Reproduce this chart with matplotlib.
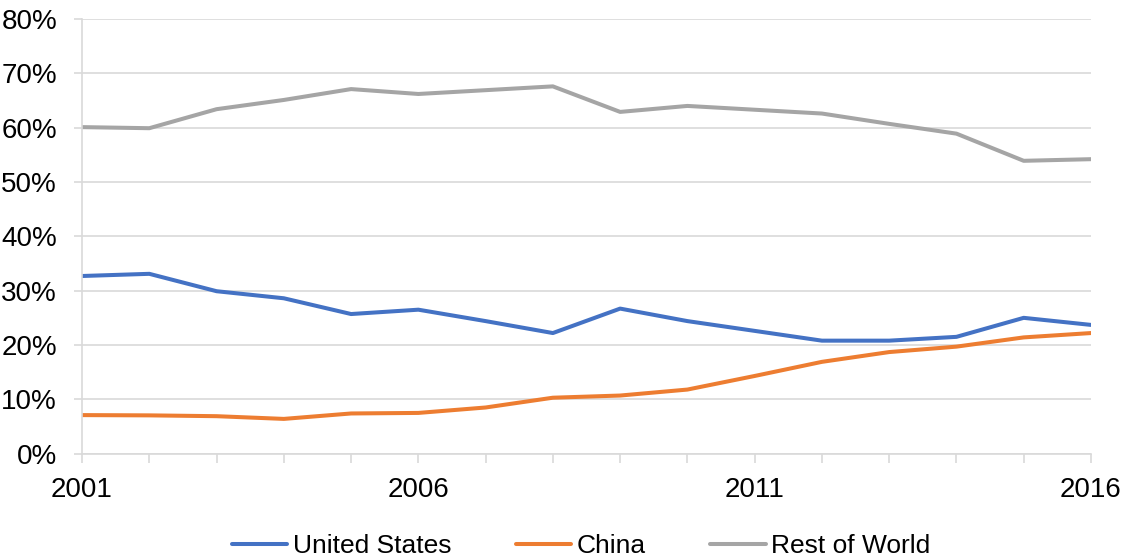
import matplotlib.pyplot as plt
from matplotlib.ticker import FuncFormatter, MultipleLocator

plt.rcParams['font.family'] = ['Liberation Sans', 'DejaVu Sans']

years = list(range(2001, 2017))
us = [32.7, 33.1, 29.9, 28.6, 25.7, 26.5, 24.4, 22.2, 26.7, 24.4, 22.6, 20.8, 20.8, 21.5, 25.0, 23.7]
china = [7.1, 7.05, 6.9, 6.4, 7.4, 7.5, 8.5, 10.3, 10.7, 11.8, 14.3, 16.9, 18.7, 19.7, 21.4, 22.2]
rest = [60.1, 59.9, 63.4, 65.1, 67.1, 66.2, 66.9, 67.6, 62.9, 64.0, 63.3, 62.6, 60.7, 58.9, 53.9, 54.2]
labeled_years = [2001, 2006, 2011, 2016]

fig = plt.figure(figsize=(11.24, 5.57), dpi=100)
ax = fig.add_axes([0.073, 0.1855, 0.8976, 0.7804])

grid_c = '#D9D9D9'
lw = 2.9
ax.plot(years, us, color='#4472C4', lw=lw, label='United States', solid_capstyle='round')
ax.plot(years, china, color='#ED7D31', lw=lw, label='China', solid_capstyle='round')
ax.plot(years, rest, color='#A5A5A5', lw=lw, label='Rest of World', solid_capstyle='round')

ax.set_xlim(2001, 2016)
ax.set_ylim(0, 80)
ax.yaxis.set_major_locator(MultipleLocator(10))
ax.yaxis.set_major_formatter(FuncFormatter(lambda v, p: f'{v:.0f}%'))
ax.set_xticks(years)
ax.set_xticklabels([str(y) if y in labeled_years else '' for y in years])

ax.grid(axis='y', color=grid_c, lw=1.2)
ax.set_axisbelow(True)
for s in ['top', 'right']:
    ax.spines[s].set_visible(False)
for s in ['left', 'bottom']:
    ax.spines[s].set_color(grid_c)
    ax.spines[s].set_linewidth(1.2)

ax.tick_params(axis='y', length=6.0, width=1.2, color=grid_c, pad=12, labelsize=20, labelcolor='#000000')
ax.tick_params(axis='x', length=6.5, width=1.2, color=grid_c, pad=10, labelsize=20, labelcolor='#000000')

fig.legend(loc='lower center', bbox_to_anchor=(0.517, -0.045), ncol=3, frameon=False,
           fontsize=19, handlelength=2.1, handletextpad=0.2, columnspacing=2.45)

fig.savefig('out.png', dpi=100)
